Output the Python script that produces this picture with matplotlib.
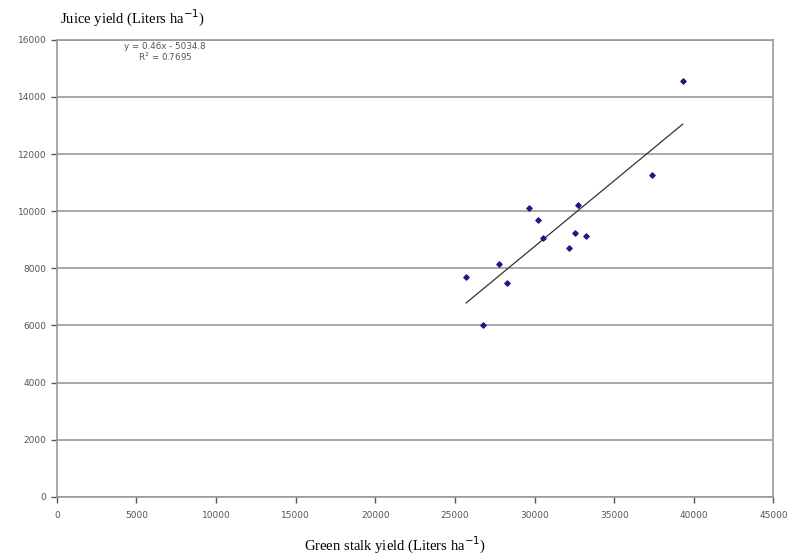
import matplotlib
matplotlib.use("Agg")
import matplotlib.pyplot as plt
import numpy as np

# green stalk yield vs juice yield (L/ha)
stalk_yield = [25700, 26750, 27750, 28250, 29650, 30200, 30550,
               32150, 32550, 32750, 33200, 37400, 39300]
juice_yield = [7700, 6000, 8150, 7500, 10100, 9700, 9070,
               8700, 9250, 10200, 9120, 11250, 14550]

slope = 0.46
intercept = -5034.8
r2_label = "R$^2$ = 0.7695"
eq_label = "y = 0.46x - 5034.8"

x_ticks = np.arange(0, 45001, 5000)
y_ticks = np.arange(0, 16001, 2000)

fig = plt.figure(figsize=(7.9, 5.59), dpi=100)
ax = fig.add_axes([0.072, 0.111, 0.907, 0.818])

grid_col = "#9a9a9a"
for s in ax.spines.values():
    s.set_color(grid_col)
    s.set_linewidth(1.2)

ax.set_xlim(0, 45000)
ax.set_ylim(0, 16000)
ax.set_xticks(x_ticks)
ax.set_yticks(y_ticks)
ax.set_xticklabels([str(t) for t in x_ticks])
ax.set_yticklabels([str(t) for t in y_ticks])
ax.tick_params(axis="both", direction="out", length=4, width=1,
               color="#555555", labelsize=6.5, labelcolor="#555555")
ax.tick_params(axis="x", pad=6)
ax.yaxis.grid(True, color=grid_col, linewidth=1.2)
ax.set_axisbelow(True)

# trend line across data range
xs = np.array([min(stalk_yield), max(stalk_yield)])
ax.plot(xs, slope * xs + intercept, color="#333333", linewidth=0.9)

ax.scatter(stalk_yield, juice_yield, s=7, marker="D", color="#1a1a80", zorder=3)

ax.text(6800, 15750, eq_label, ha="center", va="center", fontsize=6.3, color="#555555")
ax.text(6800, 15400, r2_label, ha="center", va="center", fontsize=6.3, color="#555555")

fig.text(0.076, 0.967, "Juice yield (Liters ha$^{-1}$)", family="Liberation Serif",
         fontsize=10.5, ha="left", va="center")
fig.text(0.5, 0.025, "Green stalk yield (Liters ha$^{-1}$)", family="Liberation Serif",
         fontsize=10.5, ha="center", va="center")

fig.savefig("out.png", dpi=100)
